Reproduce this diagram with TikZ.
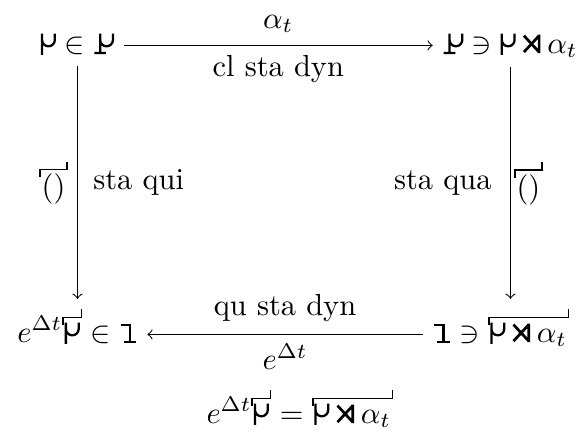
\documentclass[tikz,border=0pt]{standalone}
\newcommand\gA{\tikz[baseline=0pt,x=1pt,y=1pt,line width=0.75pt]\draw[-,solid] (0,-0.6)--(0,6.4) (0,4.3) arc[start angle=180,end angle=360,radius=2.1]--(4.2,6.4);}
\newcommand\gB{\tikz[baseline=0pt,x=1pt,y=1pt,line width=0.75pt]\draw[-,solid] (-1.2,0)--(2.6,0) (0.7,0)--(0.7,6.4) (0.7,4.3) arc[start angle=180,end angle=360,radius=2.1]--(4.9,6.4);}
\newcommand\gC{\tikz[baseline=0pt,x=1pt,y=1pt,line width=0.75pt]\draw[-,solid] (0,5.5)--(3.2,5.5)--(3.2,0) (1.2,0)--(5.2,0);}
\newcommand\srt{\mathbin{\tikz[baseline=0pt,x=1pt,y=1pt,line width=0.9pt]\draw[-,solid] (0,0.3)--(5,5.7) (0,5.7)--(5,0.3) (5,0)--(5,6);}}
\newcommand\deco[1]{\tikz[baseline=(decoin.base)]{\node[inner sep=0pt,outer sep=0pt](decoin){#1};\draw[-,solid,line width=0.55pt] ([xshift=-0.5pt,yshift=-1.2pt]decoin.north west)--++(0,2.5pt)-|([xshift=0.5pt,yshift=3.9pt]decoin.north east);}}
\tikzset{
  obj/.style={inner sep=3pt, anchor=base},
  arr/.style={->, line width=0.35pt},
  lbl/.style={inner sep=4pt}
}
\begin{document}
\begin{tikzpicture}[x=0.01153cm,y=-0.01153cm]
\useasboundingbox (0,0) rectangle (587,439);
\node[obj] (tl) at (77.5,53) {$\gA \in \gB$};
\node[obj] (tr) at (510,53) {$\gB \ni \gA \srt \alpha_t$};
\node[obj] (bl) at (77.5,342) {$e^{\Delta t}\deco{$\gA$} \in \gC$};
\node[obj] (br) at (501,342) {$\gC \ni \deco{$\gA \srt \alpha_t$}$};
\node[obj] (eq) at (300,423) {$e^{\Delta t}\deco{$\gA$} = \deco{$\gA \srt \alpha_t$}$};
\draw[arr] ([yshift=2.5pt]tl.base east) -- ([yshift=2.5pt]tr.base west)
  node[midway, above, lbl] (la) {$\alpha_t$}
  node[midway, below, lbl, inner sep=3pt] (lb) {cl sta dyn};
\draw[arr] ([yshift=2.5pt]br.base west) -- ([yshift=2.5pt]bl.base east)
  node[midway, above, lbl] (lc) {qu sta dyn}
  node[midway, below, lbl, inner sep=3pt] (ld) {$e^{\Delta t}$};
\draw[arr] (tl.south) -- (tl.south |- bl.north) coordinate[midway] (lm);
\draw[arr] (510.5,0 |- tr.south) -- (510.5,0 |- br.north) coordinate[midway] (rm);
\node[lbl, left, inner sep=3pt] (ll) at (lm) {\deco{$()$}};
\node[lbl, right, inner sep=5pt] (lr) at (lm) {sta qui};
\node[lbl, left, inner sep=6pt] (rl) at (rm) {sta qua};
\node[lbl, right, inner sep=1pt] (rr) at (rm) {\deco{$()$}};
\end{tikzpicture}
\end{document}
